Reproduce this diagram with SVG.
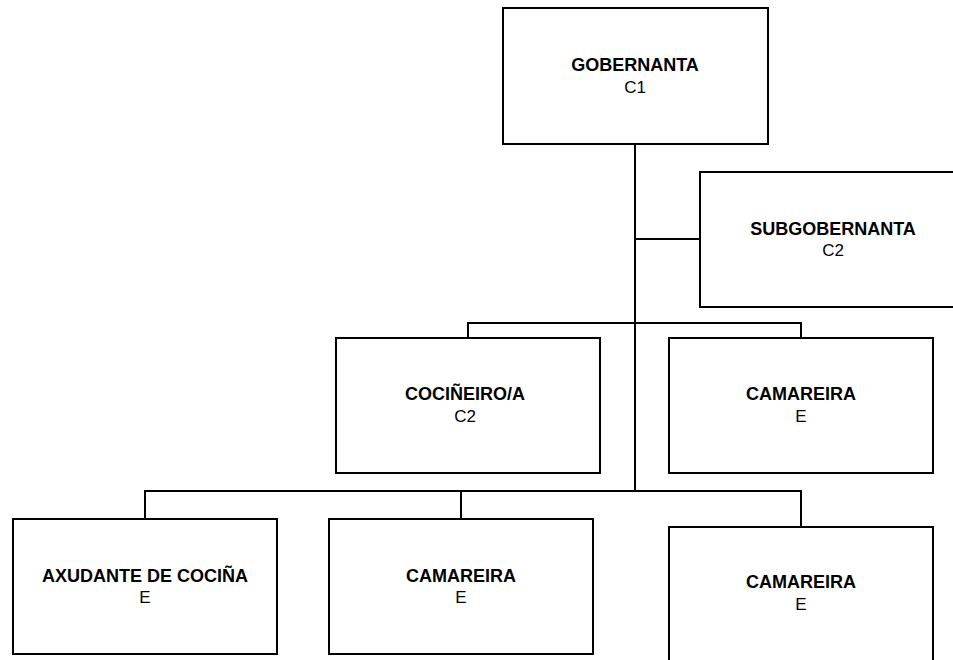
<svg xmlns="http://www.w3.org/2000/svg" width="953" height="660" viewBox="0 0 953 660">
<style>
.box{fill:#fff;stroke:#000;stroke-width:2}
.ln{fill:none;stroke:#000;stroke-width:2}
text{font-family:"Liberation Sans",Arial,sans-serif;font-size:17px;text-anchor:middle;fill:#000}
.b{font-weight:bold;font-size:18px}
</style>
<rect width="953" height="660" fill="#fff"/>
<g id="connectors">
<path class="ln" d="M635,144 V491"/>
<path class="ln" d="M635,239 H700"/>
<path class="ln" d="M468,338 V323 H801 V338"/>
<path class="ln" d="M145,519 V491 H801 V527"/>
<path class="ln" d="M461,491 V519"/>
</g>
<g id="n1"><rect class="box" x="503" y="8" width="265" height="136"/><text class="b" x="635" y="71">GOBERNANTA</text><text x="635" y="93">C1</text></g>
<g id="n2"><rect class="box" x="700" y="172" width="266" height="135"/><text class="b" x="833" y="235">SUBGOBERNANTA</text><text x="833" y="256">C2</text></g>
<g id="n3"><rect class="box" x="336" y="338" width="264" height="135"/><text class="b" x="465" y="400">COCIÑEIRO/A</text><text x="465" y="422">C2</text></g>
<g id="n4"><rect class="box" x="669" y="338" width="264" height="135"/><text class="b" x="801" y="400">CAMAREIRA</text><text x="801" y="422">E</text></g>
<g id="n5"><rect class="box" x="13" y="519" width="264" height="135"/><text class="b" x="145" y="582">AXUDANTE DE COCIÑA</text><text x="145" y="603">E</text></g>
<g id="n6"><rect class="box" x="329" y="519" width="264" height="135"/><text class="b" x="461" y="582">CAMAREIRA</text><text x="461" y="603">E</text></g>
<g id="n7"><rect class="box" x="669" y="527" width="264" height="135"/><text class="b" x="801" y="588">CAMAREIRA</text><text x="801" y="610">E</text></g>
</svg>
